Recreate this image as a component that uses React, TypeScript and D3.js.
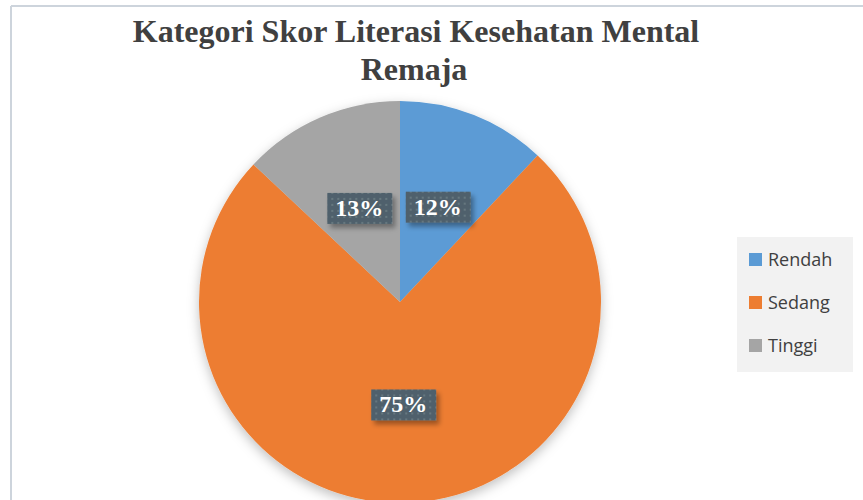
import React from "react";
import * as d3 from "d3";

const categories = ["Rendah", "Sedang", "Tinggi"];
const values = [12, 75, 13];
const labels = ["12%", "75%", "13%"];
const colors = ["#5b9bd5", "#ed7d31", "#a5a5a5"];
const title = ["Kategori Skor Literasi Kesehatan Mental", "Remaja"];

export default function App() {
  const W = 863, H = 500;
  const cx = 400, cy = 302, r = 201;
  const pie = d3.pie<number>().sort(null).value((d) => d)(values);
  const arc = d3.arc<d3.PieArcDatum<number>>().innerRadius(0).outerRadius(r);
  const labelPos = pie.map((p) => {
    const mid = (p.startAngle + p.endAngle) / 2;
    const frac = 0.51;
    return [Math.sin(mid) * r * frac, -Math.cos(mid) * r * frac];
  });
  const legendY = d3.scalePoint<string>().domain(categories).range([260, 346]);
  return (
    <svg width={W} height={H} style={{ position: "absolute", left: 0, top: 0 }} fontFamily="Liberation Serif">
      <defs>
        <filter id="pieShadow" x="-20%" y="-20%" width="140%" height="140%">
          <feDropShadow dx="0" dy="4" stdDeviation="6" floodColor="#000" floodOpacity="0.25" />
        </filter>
        <filter id="boxShadow" x="-20%" y="-30%" width="150%" height="170%">
          <feDropShadow dx="3" dy="4" stdDeviation="2.5" floodColor="#000" floodOpacity="0.35" />
        </filter>
        <pattern id="dots" width="6" height="6" patternUnits="userSpaceOnUse">
          <rect width="6" height="6" fill="#4f616c" />
          <rect x="2" y="2" width="2" height="2" fill="#66777f" />
        </pattern>
      </defs>
      <rect x={0} y={0} width={W} height={H} fill="#fff" />
      <line x1={11} y1={6} x2={W} y2={6} stroke="#cdd4dc" strokeWidth={2} />
      <line x1={11} y1={6} x2={11} y2={H} stroke="#cdd4dc" strokeWidth={2} />
      <text x={416} y={42} textAnchor="middle" fontWeight="bold" fontSize={32} fill="#404040">{title[0]}</text>
      <text x={414} y={80} textAnchor="middle" fontWeight="bold" fontSize={32} fill="#404040">{title[1]}</text>
      <g transform={`translate(${cx},${cy})`}>
        <g filter="url(#pieShadow)">
          {pie.map((p, i) => (
            <path key={i} d={arc(p) || ""} fill={colors[i]} />
          ))}
        </g>
        {pie.map((p, i) => {
          const [lx, ly] = labelPos[i];
          return (
            <g key={"l" + i} transform={`translate(${lx},${ly})`}>
              <rect x={-32} y={-15} width={65} height={31} fill="url(#dots)" filter="url(#boxShadow)" />
              <text x={0} y={8} textAnchor="middle" fontWeight="bold" fontSize={24} fill="#fff">{labels[i]}</text>
            </g>
          );
        })}
      </g>
      <rect x={737} y={237} width={116} height={135} fill="#f2f2f2" />
      {categories.map((c, i) => (
        <g key={c} transform={`translate(749,${legendY(c)})`}>
          <rect x={0} y={-7} width={13} height={13} fill={colors[i]} />
          <text x={19} y={6} fontSize={18} fontFamily="Open Sans" fill="#404040">{c}</text>
        </g>
      ))}
    </svg>
  );
}
